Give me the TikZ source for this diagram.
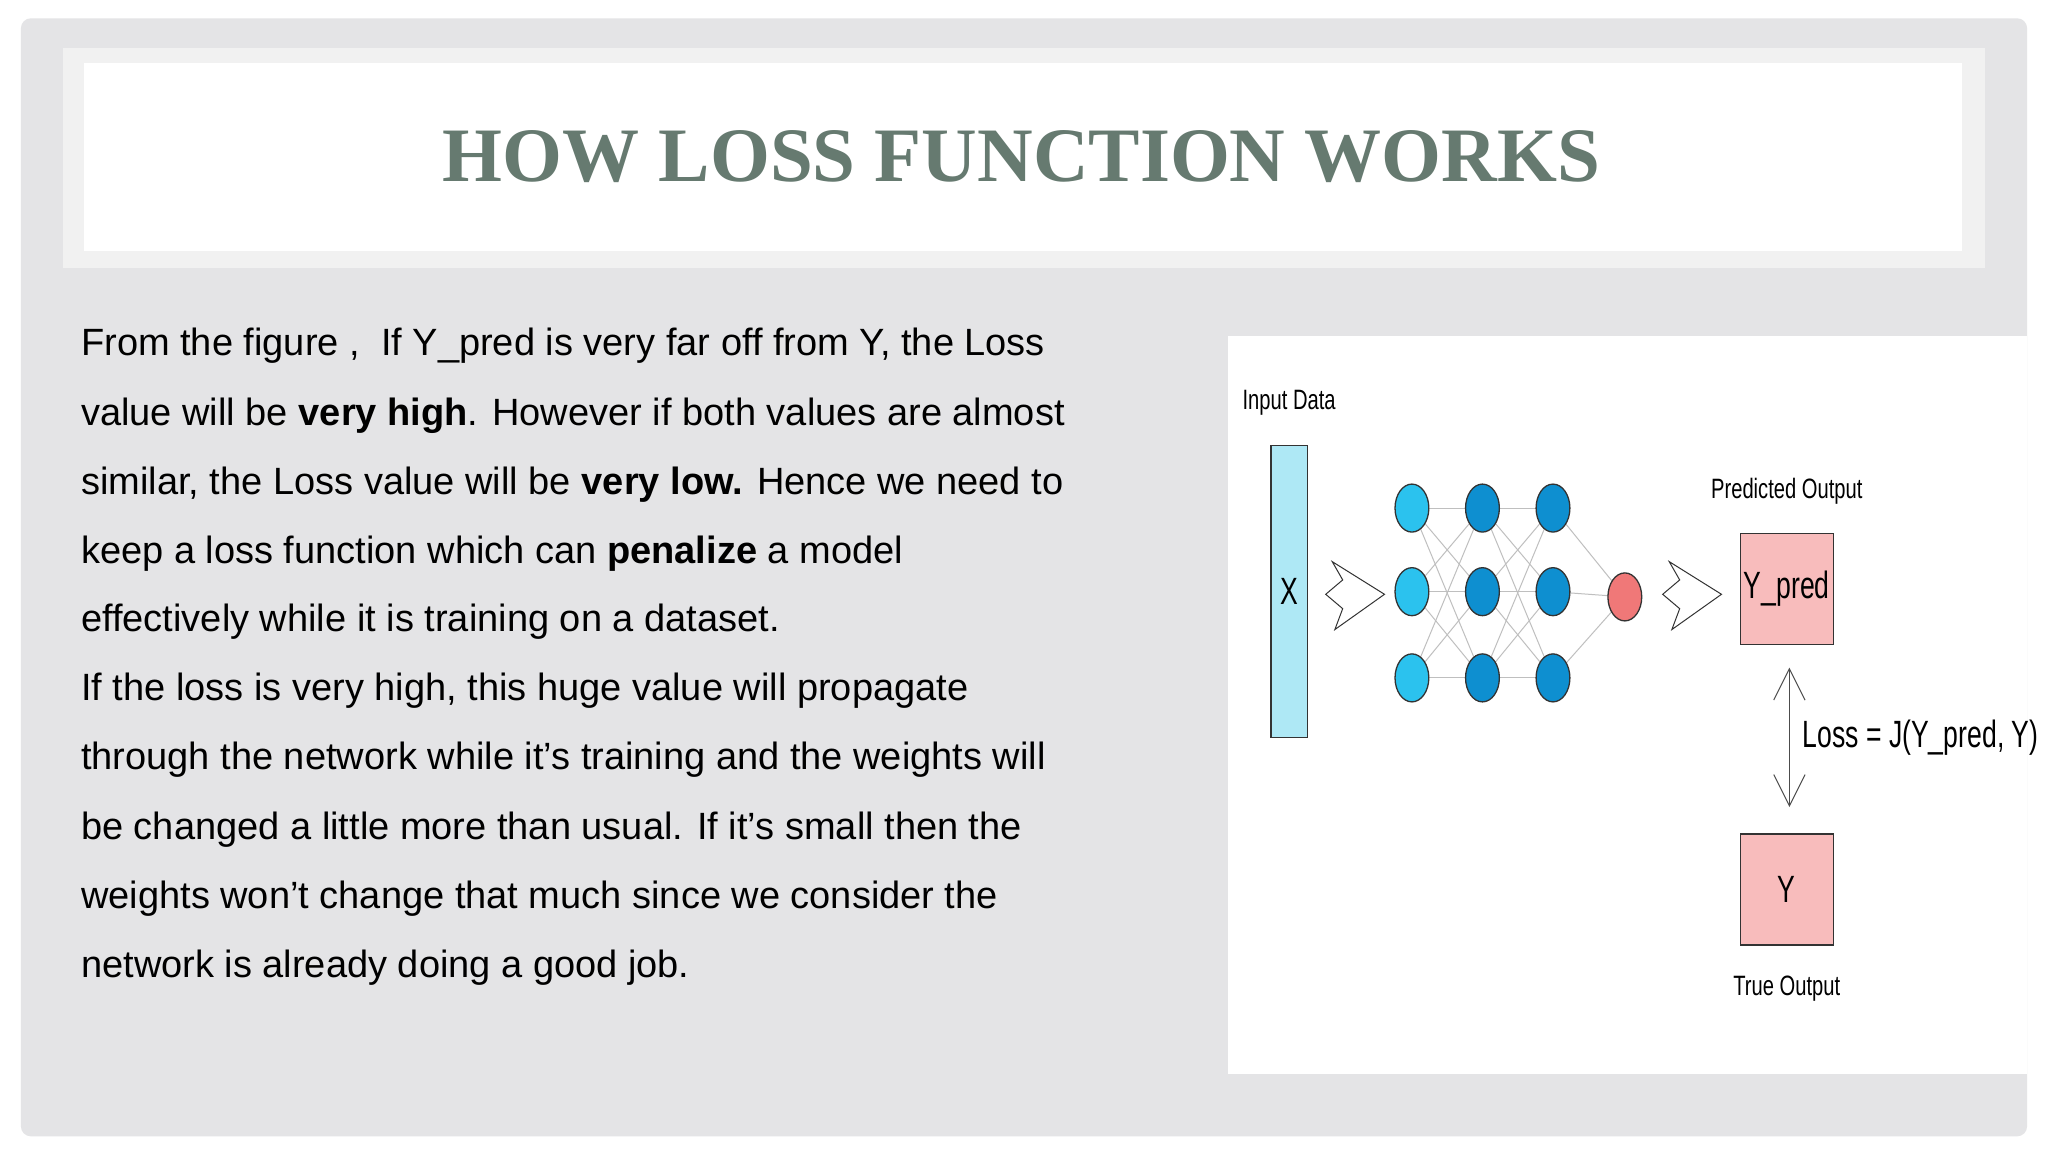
\documentclass[tikz,border=0pt]{standalone}
\usepackage{fontspec}
\usetikzlibrary{shapes.geometric}
\setmainfont{Liberation Sans}
\newfontfamily\titlefont{Liberation Serif}
\begin{document}
\begin{tikzpicture}[x=1.306pt,y=-1.306pt,
  body/.style={anchor=west,inner sep=0pt,font=\fontsize{38}{44}\selectfont},
  dlab/.style={inner sep=0pt,font=\fontsize{28}{32}\selectfont,xscale=0.72},
  blab/.style={inner sep=0pt,font=\fontsize{38}{42}\selectfont,xscale=0.7},
  neu/.style={ellipse,draw=black!80,line width=1.3pt,minimum width=33.8pt,minimum height=48pt,inner sep=0pt},
  pbox/.style={draw=black!80,line width=1.3pt,fill=pinkbox,minimum width=92.7pt,minimum height=111pt,inner sep=0pt},
  conn/.style={draw=black!25,line width=1pt}]
\definecolor{slide}{HTML}{E4E4E6}
\definecolor{band}{HTML}{F1F1F1}
\definecolor{titlec}{HTML}{667A70}
\definecolor{lightb}{HTML}{2BC2EE}
\definecolor{darkb}{HTML}{0E8FD0}
\definecolor{redn}{HTML}{F07878}
\definecolor{pinkbox}{HTML}{F8BCBC}
\definecolor{xbar}{HTML}{AEE8F5}
\useasboundingbox (0,0) rectangle (1568,882);
\fill[white] (0,0) rectangle (1568,882);
\fill[slide,rounded corners=10pt] (16,14) rectangle (1552,870);
\fill[band] (48,37) rectangle (1520,205);
\fill[white] (64,48) rectangle (1502,192);
\node[font=\titlefont\bfseries\fontsize{77}{86}\selectfont,text=titlec] (title) at (782,120) {HOW LOSS FUNCTION WORKS};
\node[body] (l1) at (62,265) {From the figure ,\ \ If Y\_pred is very far off from Y, the Loss};
\node[body] (l2) at (62,318) {value will be \textbf{very high}. However if both values are almost};
\node[body] (l3) at (62,371) {similar, the Loss value will be \textbf{very low.} Hence we need to};
\node[body] (l4) at (62,424) {keep a loss function which can \textbf{penalize} a model};
\node[body] (l5) at (62,476) {effectively while it is training on a dataset.};
\node[body] (l6) at (62,529) {If the loss is very high, this huge value will propagate};
\node[body] (l7) at (62,582) {through the network while it’s training and the weights will};
\node[body] (l8) at (62,635) {be changed a little more than usual. If it’s small then the};
\node[body] (l9) at (62,688) {weights won’t change that much since we consider the};
\node[body] (l10) at (62,741) {network is already doing a good job.};
% panel
\fill[white] (940,257) rectangle (1552,822);
\node[dlab] (inp) at (987,308) {Input Data};
\node[draw=black!80,line width=1.3pt,fill=xbar,minimum width=36.5pt,minimum height=292pt,inner sep=0pt] (xb) at (987,453) {};
\node[blab] (xl) at (987,453) {X};
\draw[black!80,line width=1pt,fill=white] (1020,430)--(1060,455)--(1022,482)--(1028,466)--(1015,455)--(1028,444)--cycle;
\draw[black!80,line width=1pt,fill=white] (1278,430)--(1318,455)--(1280,482)--(1286,466)--(1273,455)--(1286,444)--cycle;
\foreach \i/\y in {1/389,2/453,3/519}{
  \coordinate (a\i) at (1081,\y);
  \coordinate (b\i) at (1135,\y);
  \coordinate (c\i) at (1189,\y);}
\coordinate (o) at (1244,457);
\foreach \i in {1,2,3}{\foreach \j in {1,2,3}{
  \draw[conn] (a\i)--(b\j); \draw[conn] (b\i)--(c\j);}
  \draw[conn] (c\i)--(o);}
\foreach \i in {1,2,3}{
  \node[neu,fill=lightb] (na\i) at (a\i) {};
  \node[neu,fill=darkb] (nb\i) at (b\i) {};
  \node[neu,fill=darkb] (nc\i) at (c\i) {};}
\node[neu,fill=redn] (no) at (o) {};
\node[dlab] (po) at (1368,376) {Predicted Output};
\node[pbox] (yp) at (1368,451) {};
\node[blab] (ypl) at (1368,451) {Y\_pred};
\node[pbox] (yt) at (1368,681) {};
\node[blab] (ytl) at (1368,681) {Y};
\node[dlab] (to) at (1368,757) {True Output};
\coordinate (ua) at (1370,512);
\coordinate (da) at (1370,617);
\draw[black!70,line width=1pt] (ua)--(da);
\draw[black!70,line width=1pt] (1358,536)--(ua)--(1382,536);
\draw[black!70,line width=1pt] (1358,593)--(da)--(1382,593);
\node[blab,anchor=west] (loss) at (1380,565) {Loss = J(Y\_pred, Y)};
\end{tikzpicture}
\end{document}
